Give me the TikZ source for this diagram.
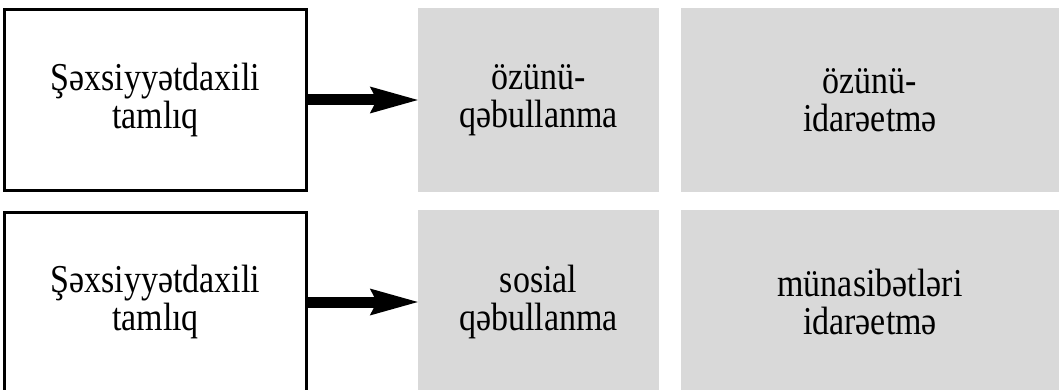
\documentclass[tikz,border=0pt]{standalone}
\usepackage{fontspec}
\setmainfont[FakeStretch=0.86]{Liberation Serif}
\usetikzlibrary{arrows.meta}
\definecolor{boxgray}{RGB}{217,217,217}
\begin{document}
\begin{tikzpicture}[x=1pt,y=-1pt,
  boxfont/.style={font=\fontsize{39.5}{38}\selectfont},
  srcbox/.style={boxfont,draw=black,line width=3pt,fill=white,minimum width=302pt,minimum height=180pt,inner sep=0pt,align=center},
  graybox/.style={boxfont,fill=boxgray,draw=none,inner sep=0pt,align=center,minimum height=184pt},
  bigarrow/.style={line width=11pt,-{Stealth[length=48pt,width=27pt,inset=7pt,line width=0pt]}}]
\useasboundingbox (0,0) rectangle (1059,390);
\clip (0,0) rectangle (1059,390);
% top row
\node[srcbox] (a1) at (155.5,100) {Şəxsiyyətdaxili\\tamlıq};
\node[graybox,minimum width=241pt] (g1) at (538.5,100) {özünü-\\qəbullanma};
\node[graybox,minimum width=378pt] (g2) at (870,100) {özünü-\\idarəetmə};
\draw[bigarrow] (a1.east) -- (g1.west);
% bottom row
\node[srcbox] (a2) at (155.5,302) {Şəxsiyyətdaxili\\tamlıq};
\node[graybox,minimum width=241pt] (g3) at (538.5,302) {sosial\\qəbullanma};
\node[graybox,minimum width=378pt] (g4) at (870,302) {münasibətləri\\idarəetmə};
\draw[bigarrow] (a2.east) -- (g3.west);
\end{tikzpicture}
\end{document}
